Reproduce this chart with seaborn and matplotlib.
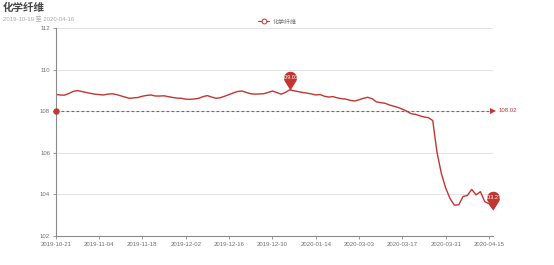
import numpy as np
import pandas as pd
import matplotlib
matplotlib.use("Agg")
import matplotlib.pyplot as plt
from matplotlib.path import Path
from matplotlib.lines import Line2D
import seaborn as sns

# ---------------- data ----------------
title = "化学纤维"
subtitle = "2019-10-19 至 2020-04-16"
series_name = "化学纤维"

seg1 = [d for d in pd.bdate_range("2019-10-21", "2020-01-23") if d != pd.Timestamp("2020-01-01")]
seg2 = [pd.Timestamp("2020-02-28")]
seg3 = [d for d in pd.bdate_range("2020-03-02", "2020-04-16") if d != pd.Timestamp("2020-04-06")]
dates = [d.strftime("%Y-%m-%d") for d in seg1 + seg2 + seg3]

values = [
    108.81, 108.78, 108.77, 108.85, 108.95, 108.99, 108.95, 108.90, 108.86, 108.82,
    108.80, 108.78, 108.82, 108.84, 108.80, 108.74, 108.68, 108.62, 108.64, 108.66,
    108.72, 108.76, 108.78, 108.73, 108.73, 108.74, 108.70, 108.66, 108.63, 108.62,
    108.58, 108.57, 108.59, 108.62, 108.70, 108.75, 108.68, 108.62, 108.65, 108.72,
    108.80, 108.88, 108.95, 108.97, 108.90, 108.84, 108.82, 108.83, 108.84, 108.90,
    108.97, 108.90, 108.82, 108.90, 109.03, 108.98, 108.94, 108.90, 108.87, 108.83,
    108.78, 108.80, 108.72, 108.68, 108.70, 108.64, 108.60, 108.58, 108.52, 108.49,
    108.55, 108.62, 108.67, 108.60, 108.45, 108.41, 108.38, 108.30, 108.24, 108.18,
    108.10, 108.00, 107.88, 107.85, 107.78, 107.72, 107.69, 107.55, 106.00, 105.00,
    104.30, 103.80, 103.48, 103.50, 103.90, 103.95, 104.24, 103.98, 104.13, 103.65,
    103.55, 103.27,
]
y_ticks = [102, 104, 106, 108, 110, 112]

# ---------------- style ----------------
sns.set_theme(style="white")
plt.rcParams["font.family"] = ["Liberation Sans", "Noto Sans CJK SC", "DejaVu Sans"]

RED = "#c23531"
GREY_TXT = "#6e6e6e"
AXIS_C = "#8a8a8a"

df = pd.DataFrame({"idx": np.arange(len(values)), "value": values, "date": dates})

W, H = 554, 265
fig = plt.figure(figsize=(W / 100, H / 100), dpi=100)
ax = fig.add_axes([55.7 / W, 1 - 236 / H, (493.4 - 55.7) / W, (236 - 28) / H])

sns.lineplot(data=df, x="idx", y="value", ax=ax, color=RED, linewidth=1.0)

ax.set_xlim(0, len(values) - 1)
ax.set_ylim(102, 112)
ax.set_yticks(y_ticks)
ax.set_yticklabels([str(t) for t in y_ticks])
tick_idx = list(range(0, len(values), 10))
ax.set_xticks(tick_idx)
ax.set_xticklabels([dates[i] for i in tick_idx])
ax.set_xlabel("")
ax.set_ylabel("")

for t in y_ticks[1:]:
    ax.axhline(t, color="#e3e3e3", linewidth=0.7, zorder=0)

for s in ["top", "right"]:
    ax.spines[s].set_visible(False)
for s in ["left", "bottom"]:
    ax.spines[s].set_color(AXIS_C)
    ax.spines[s].set_linewidth(0.8)

ax.tick_params(axis="both", which="major", length=2.5, width=0.6, color=AXIS_C,
               labelsize=4.3, labelcolor=GREY_TXT, pad=1.5, direction="out")
ax.tick_params(axis="x", bottom=True)
ax.tick_params(axis="y", left=True)

# mean mark line
mean_v = float(np.mean(values))
n = len(values)
ax.plot([0, n - 1.6], [mean_v, mean_v], color=RED, linestyle=(0, (2.5, 2.0)),
        linewidth=0.8, alpha=0.9, zorder=3)
ax.plot([0], [mean_v], marker="o", markersize=3.6, color=RED, zorder=4, clip_on=False)
ax.plot([n - 1.2], [mean_v], marker=">", markersize=4.5, color=RED, zorder=4,
        clip_on=False, markeredgewidth=0)
ax.annotate(f"{mean_v:.2f}", xy=(n - 1, mean_v), xytext=(4, 0), textcoords="offset points",
            ha="left", va="center", fontsize=4.3, color=RED, annotation_clip=False)

# pin markers for max/min
r, dcen = 1.0, 1.9
theta = np.arccos(r / dcen)
a0 = -np.pi / 2 + theta
a1 = 3 * np.pi / 2 - theta
angs = np.linspace(a0, a1, 40)
verts = [(0.0, 0.0)] + [(r * np.cos(a), dcen + r * np.sin(a)) for a in angs] + [(0.0, 0.0)]
codes = [Path.MOVETO] + [Path.LINETO] * (len(verts) - 2) + [Path.CLOSEPOLY]
pin = Path(verts, codes)
ms = 27
head_off = 0.5 * ms * dcen / (dcen + r)

i_max = int(np.argmax(values))
i_min = int(np.argmin(values))
for i in (i_max, i_min):
    ax.plot([i], [values[i]], marker=pin, markersize=ms, color=RED,
            markeredgewidth=0, zorder=5, clip_on=False)
    ax.annotate(f"{values[i]:.2f}", xy=(i, values[i]), xytext=(0, head_off),
                textcoords="offset points", ha="center", va="center",
                fontsize=4.0, color="white", zorder=6, annotation_clip=False)

# titles
fig.text(3 / W, 1 - 8 / H, title, fontsize=7.6, fontweight="bold", color="#464646",
         ha="left", va="center")
fig.text(3 / W, 1 - 18.5 / H, subtitle, fontsize=4.3, color="#aaaaaa",
         ha="left", va="center")

# legend
handle = Line2D([0], [0], color=RED, linewidth=0.8, marker="o", markersize=3.5,
                markerfacecolor="white", markeredgecolor=RED, markeredgewidth=0.7)
leg = fig.legend([handle], [series_name], loc="center", bbox_to_anchor=(277 / W, 1 - 22 / H),
                 frameon=False, fontsize=4.3, handlelength=2.0, handletextpad=0.5,
                 borderpad=0.1)
for t in leg.get_texts():
    t.set_color(GREY_TXT)

fig.savefig("out.png", dpi=100)
